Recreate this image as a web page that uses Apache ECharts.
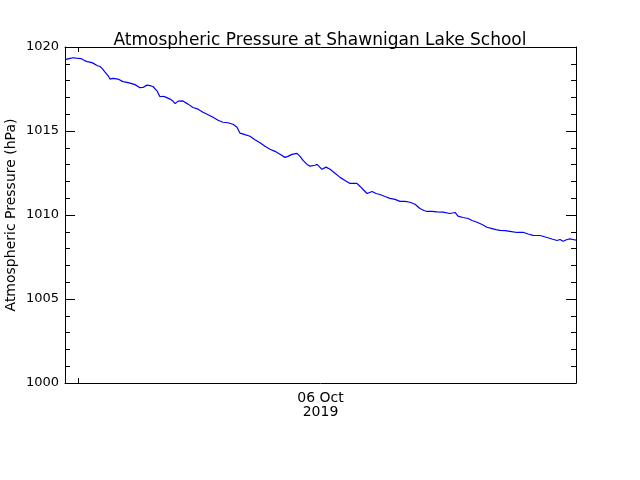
<!DOCTYPE html>
<html>
<head>
<meta charset="utf-8">
<script src="https://cdn.jsdelivr.net/npm/echarts@6/dist/echarts.min.js"></script>
<style>html,body{margin:0;padding:0;background:#fff}#c{width:640px;height:480px}</style>
</head>
<body>
<div id="c"></div>
<script>
// hours since 05 Oct 2019 12:00
var hours = [0.00,0.19,0.38,0.52,0.61,0.75,0.85,1.03,1.17,1.32,1.50,1.64,1.74,1.88,2.02,2.11,2.25,2.49,2.72,2.86,3.05,3.29,3.52,3.66,3.85,3.99,4.13,4.32,4.46,4.60,4.70,4.93,5.07,5.17,5.31,5.54,5.78,6.01,6.25,6.48,6.72,6.95,7.19,7.42,7.66,7.89,8.08,8.22,8.45,8.69,8.92,9.16,9.39,9.63,9.86,10.10,10.33,10.47,10.66,10.90,11.04,11.18,11.37,11.51,11.74,11.84,12.07,12.26,12.45,12.68,12.92,13.15,13.39,13.71,13.86,14.00,14.19,14.42,14.61,14.79,15.03,15.26,15.50,15.73,15.97,16.20,16.44,16.67,16.86,17.00,17.24,17.47,17.75,18.08,18.32,18.46,18.69,18.93,19.12,19.35,19.59,19.82,20.06,20.24,20.43,20.67,20.90,21.23,21.51,21.75,21.98,22.31,22.64,22.87,23.11,23.25,23.39,23.58,23.72,23.86,24.00];
var pressure = [1019.25,1019.31,1019.36,1019.34,1019.28,1019.31,1019.24,1019.13,1019.10,1019.04,1018.90,1018.84,1018.73,1018.51,1018.30,1018.09,1018.13,1018.09,1017.94,1017.91,1017.85,1017.76,1017.58,1017.59,1017.73,1017.70,1017.65,1017.39,1017.04,1017.07,1017.03,1016.90,1016.78,1016.63,1016.78,1016.79,1016.60,1016.40,1016.30,1016.12,1015.97,1015.82,1015.64,1015.52,1015.49,1015.40,1015.22,1014.87,1014.78,1014.69,1014.48,1014.30,1014.09,1013.91,1013.79,1013.61,1013.43,1013.49,1013.61,1013.67,1013.49,1013.25,1013.01,1012.91,1012.96,1013.01,1012.72,1012.85,1012.72,1012.48,1012.24,1012.06,1011.88,1011.88,1011.70,1011.52,1011.28,1011.40,1011.28,1011.22,1011.10,1010.99,1010.93,1010.81,1010.81,1010.76,1010.64,1010.39,1010.27,1010.21,1010.21,1010.19,1010.17,1010.09,1010.15,1009.93,1009.85,1009.79,1009.67,1009.57,1009.43,1009.27,1009.19,1009.13,1009.09,1009.07,1009.03,1008.96,1008.97,1008.87,1008.79,1008.78,1008.66,1008.57,1008.48,1008.54,1008.44,1008.54,1008.58,1008.54,1008.50];
var xLabelHour = 12;
var xLabelText = '06 Oct\n2019';
var xTickHours = [0.61];

var data = hours.map(function (h, i) { return [h, pressure[i]]; });
var font = 'DejaVu Sans';
var chart = echarts.init(document.getElementById('c'));
function yAxisDef(pos, showLabel) {
  var a = {
    type: 'value', min: 1000, max: 1020, interval: 5, position: pos, gridIndex: 0,
    axisLine: { show: true, onZero: false, lineStyle: { color: '#000', width: 1 } },
    axisTick: { show: true, inside: true, length: 10, lineStyle: { color: '#000' } },
    minorTick: { show: true, splitNumber: 5, length: 5, lineStyle: { color: '#000' } },
    splitLine: { show: false },
    axisLabel: { show: showLabel, fontFamily: font, fontSize: 13, color: '#000', margin: 6,
      formatter: function (v) { return String(v); } }
  };
  if (showLabel) {
    a.name = 'Atmospheric Pressure (hPa)';
    a.nameLocation = 'middle';
    a.nameGap = 47;
    a.nameMoveOverlap = false;
    a.nameTextStyle = { fontFamily: font, fontSize: 14, color: '#000' };
  }
  return a;
}
function xAxisDef(pos, showLabel) {
  return {
    type: 'value', min: 0, max: 24, position: pos, gridIndex: 0,
    axisLine: { show: true, onZero: false, lineStyle: { color: '#000', width: 1 } },
    axisTick: { show: true, inside: true, length: 5, customValues: xTickHours, lineStyle: { color: '#000' } },
    splitLine: { show: false },
    axisLabel: { show: showLabel, customValues: [xLabelHour], formatter: function () { return xLabelText; },
      fontFamily: font, fontSize: 14, color: '#000', margin: 8, lineHeight: 14 }
  };
}
chart.setOption({
  animation: false,
  backgroundColor: '#fff',
  title: {
    text: 'Atmospheric Pressure at Shawnigan Lake School',
    left: 'center', top: 27,
    textStyle: { fontFamily: font, fontSize: 17, fontWeight: 'normal', color: '#000' }
  },
  grid: { left: 65, right: 64, top: 47, bottom: 97, containLabel: false, outerBoundsMode: 'none' },
  xAxis: [xAxisDef('bottom', true), xAxisDef('top', false)],
  yAxis: [yAxisDef('left', true), yAxisDef('right', false)],
  series: [{
    type: 'line', data: data, showSymbol: false, symbol: 'none',
    lineStyle: { color: '#0000ff', width: 1.2 }, xAxisIndex: 0, yAxisIndex: 0
  }, {
    type: 'line', data: [], xAxisIndex: 1, yAxisIndex: 1
  }]
});
</script>
</body>
</html>
